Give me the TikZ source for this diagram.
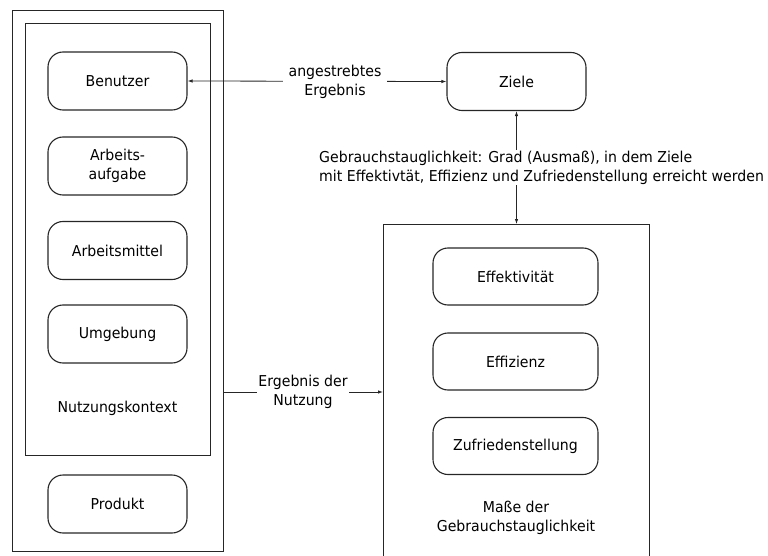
\documentclass[tikz,border=0pt]{standalone}
\usepackage{fontspec}
\setmainfont{DejaVu Sans}[FakeStretch=0.94]
\usetikzlibrary{arrows.meta}
\begin{document}
\begin{tikzpicture}[x=1pt,y=-1pt,
  >={Latex[length=5pt,width=3.5pt]},
  box/.style={draw=black!85, line width=1.1pt, rounded corners=15pt, minimum width=139pt, minimum height=58pt, align=center, inner sep=0pt},
  frame/.style={draw=black!85, line width=1.1pt, inner sep=0pt, anchor=north west},
  lbl/.style={fill=white, align=center, inner xsep=6pt, inner ysep=1pt},
  conn/.style={line width=0.8pt, draw=black!85},
  font=\fontsize{15}{19}\selectfont]
\useasboundingbox (0,0) rectangle (768,556);
\clip (0,0) rectangle (768,556);
% frames
\node[frame, minimum width=211pt, minimum height=541pt] (outer) at (12,10) {};
\node[frame, minimum width=185pt, minimum height=432pt] (inner) at (25,23) {};
\node[frame, minimum width=266pt, minimum height=400pt] (right) at (383,224) {};
% left nodes
\node[box] (benutzer) at (117.5,81) {Benutzer};
\node[box] (aufgabe) at (117.5,166) {Arbeits-\\aufgabe};
\node[box] (mittel) at (117.5,250.5) {Arbeitsmittel};
\node[box] (umgebung) at (117.5,334) {Umgebung};
\node (kontext) at (117.5,408) {Nutzungskontext};
\node[box] (produkt) at (117.5,504) {Produkt};
% goals
\node[box] (ziele) at (516.5,81.5) {Ziele};
% right nodes
\node[box, minimum width=165pt, minimum height=57pt] (effekt) at (515.5,276.5) {Effektivität};
\node[box, minimum width=165pt, minimum height=57pt] (effiz) at (515.5,361.5) {Effizienz};
\node[box, minimum width=165pt, minimum height=57pt] (zufr) at (515.5,446) {Zufriedenstellung};
\node[align=center] (masse) at (516,517.5) {Maße der\\Gebrauchstauglichkeit};
% connectors
\draw[conn, <->] (benutzer.east) -- (ziele.west);
\node[lbl] (lblziel) at (335,82) {angestrebtes\\Ergebnis};
\draw[conn, <->] (ziele.south) -- (ziele.south |- right.north);
\node[lbl, align=left, anchor=west] (lblgrad) at (313,167.5) {Gebrauchstauglichkeit: Grad (Ausmaß), in dem Ziele\\mit Effektivtät, Effizienz und Zufriedenstellung erreicht werden};
\coordinate (yn) at (0,392);
\draw[conn, ->] (yn -| outer.east) -- (yn -| right.west);
\node[lbl, inner xsep=1pt] (lblnutz) at (303,392) {Ergebnis der\\Nutzung};
\end{tikzpicture}
\end{document}
